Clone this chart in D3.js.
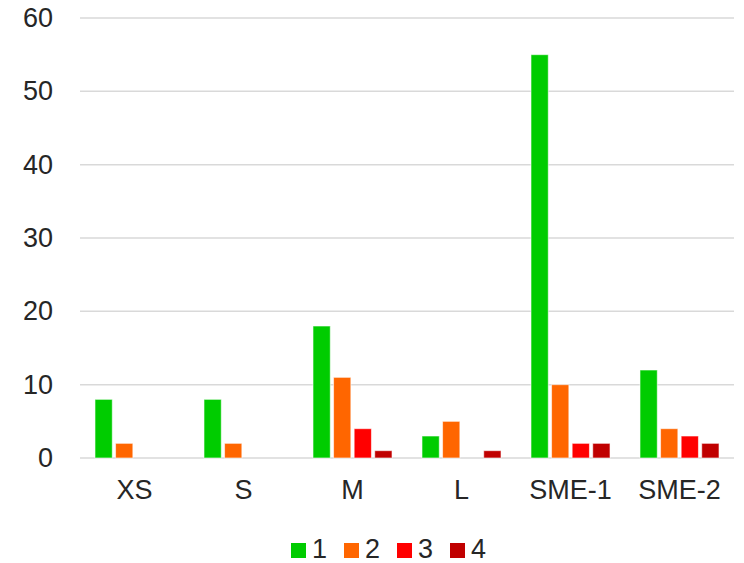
<!DOCTYPE html>
<html>
<head>
<meta charset="utf-8">
<script src="https://cdn.jsdelivr.net/npm/d3@7"></script>
<style>
  body { margin: 0; background: #fff; }
  text { font-family: "Liberation Sans", Arial, sans-serif; fill: #262626; }
</style>
</head>
<body>
<svg id="svg" width="744" height="563"></svg>
<script>
const categories = ['XS', 'S', 'M', 'L', 'SME-1', 'SME-2']
const seriesNames = ['1', '2', '3', '4']
const series1 = [8, 8, 18, 3, 55, 12]
const series2 = [2, 2, 11, 5, 10, 4]
const series3 = [0, 0, 4, 0, 2, 3]
const series4 = [0, 0, 1, 1, 2, 2]
const colors = ['#00cc00', '#ff6600', '#ff0000', '#c00000']
const yTicks = [0, 10, 20, 30, 40, 50, 60]

const allSeries = [series1, series2, series3, series4]
const data = categories.map((c, i) => ({
  name: c,
  values: allSeries.map((s, k) => ({ key: seriesNames[k], value: s[i], color: colors[k] }))
}))

const margin = { top: 18, right: 10, bottom: 105, left: 80 }
const width = 744 - (margin.left + margin.right)
const height = 563 - (margin.top + margin.bottom)

const svg = d3.select('#svg')

// x scales
const x0 = d3.scaleBand()
  .domain(categories)
  .range([margin.left, margin.left + width])
  .paddingInner(0.275)
  .paddingOuter(0.1375)

const x1 = d3.scaleBand()
  .domain(seriesNames)
  .range([0, x0.bandwidth()])
  .paddingInner(0.16)

// y scale
const yscale = d3.scaleLinear()
  .domain([0, 60])
  .range([margin.top + height, margin.top])

// gridlines
svg.append('g')
  .selectAll('line')
  .data(yTicks)
  .enter()
  .append('line')
  .attr('x1', margin.left)
  .attr('x2', margin.left + width)
  .attr('y1', d => yscale(d))
  .attr('y2', d => yscale(d))
  .attr('stroke', '#d9d9d9')
  .attr('stroke-width', 1.5)

// bars
const groups = svg.append('g')
  .selectAll('g')
  .data(data)
  .enter()
  .append('g')
  .attr('transform', d => `translate(${x0(d.name)}, 0)`)

groups.selectAll('rect')
  .data(d => d.values.filter(v => v.value > 0))
  .enter()
  .append('rect')
  .attr('x', d => x1(d.key))
  .attr('y', d => yscale(d.value))
  .attr('width', x1.bandwidth())
  .attr('height', d => yscale(0) - yscale(d.value))
  .attr('fill', d => d.color)
  .attr('stroke', '#fff')
  .attr('stroke-opacity', 0.6)
  .attr('stroke-width', 1)

// y axis labels
const leftAxis = d3.axisLeft(yscale).tickValues(yTicks).tickSize(0).tickPadding(27)
const yAxis = svg.append('g')
  .attr('transform', `translate(${margin.left}, 0)`)
  .call(leftAxis)
yAxis.select('.domain').remove()
yAxis.selectAll('text').style('font-size', '27px').attr('fill', '#262626')
  .style('font-family', '"Liberation Sans", Arial, sans-serif')

// x axis labels
const bottomAxis = d3.axisBottom(x0).tickSize(0).tickPadding(22)
const xAxis = svg.append('g')
  .attr('transform', `translate(0, ${margin.top + height})`)
  .call(bottomAxis)
xAxis.select('.domain').remove()
xAxis.selectAll('text').style('font-size', '27px').attr('fill', '#262626')
  .style('font-family', '"Liberation Sans", Arial, sans-serif')

// legend
const legend = svg.append('g')
  .attr('transform', 'translate(291, 543)')
const items = legend.selectAll('g')
  .data(seriesNames)
  .enter()
  .append('g')
  .attr('transform', (d, i) => `translate(${i * 53}, 0)`)
items.append('rect')
  .attr('width', 15)
  .attr('height', 15)
  .attr('fill', (d, i) => colors[i])
items.append('text')
  .attr('x', 21)
  .attr('y', 15)
  .style('font-size', '27px')
  .text(d => d)
</script>
</body>
</html>
